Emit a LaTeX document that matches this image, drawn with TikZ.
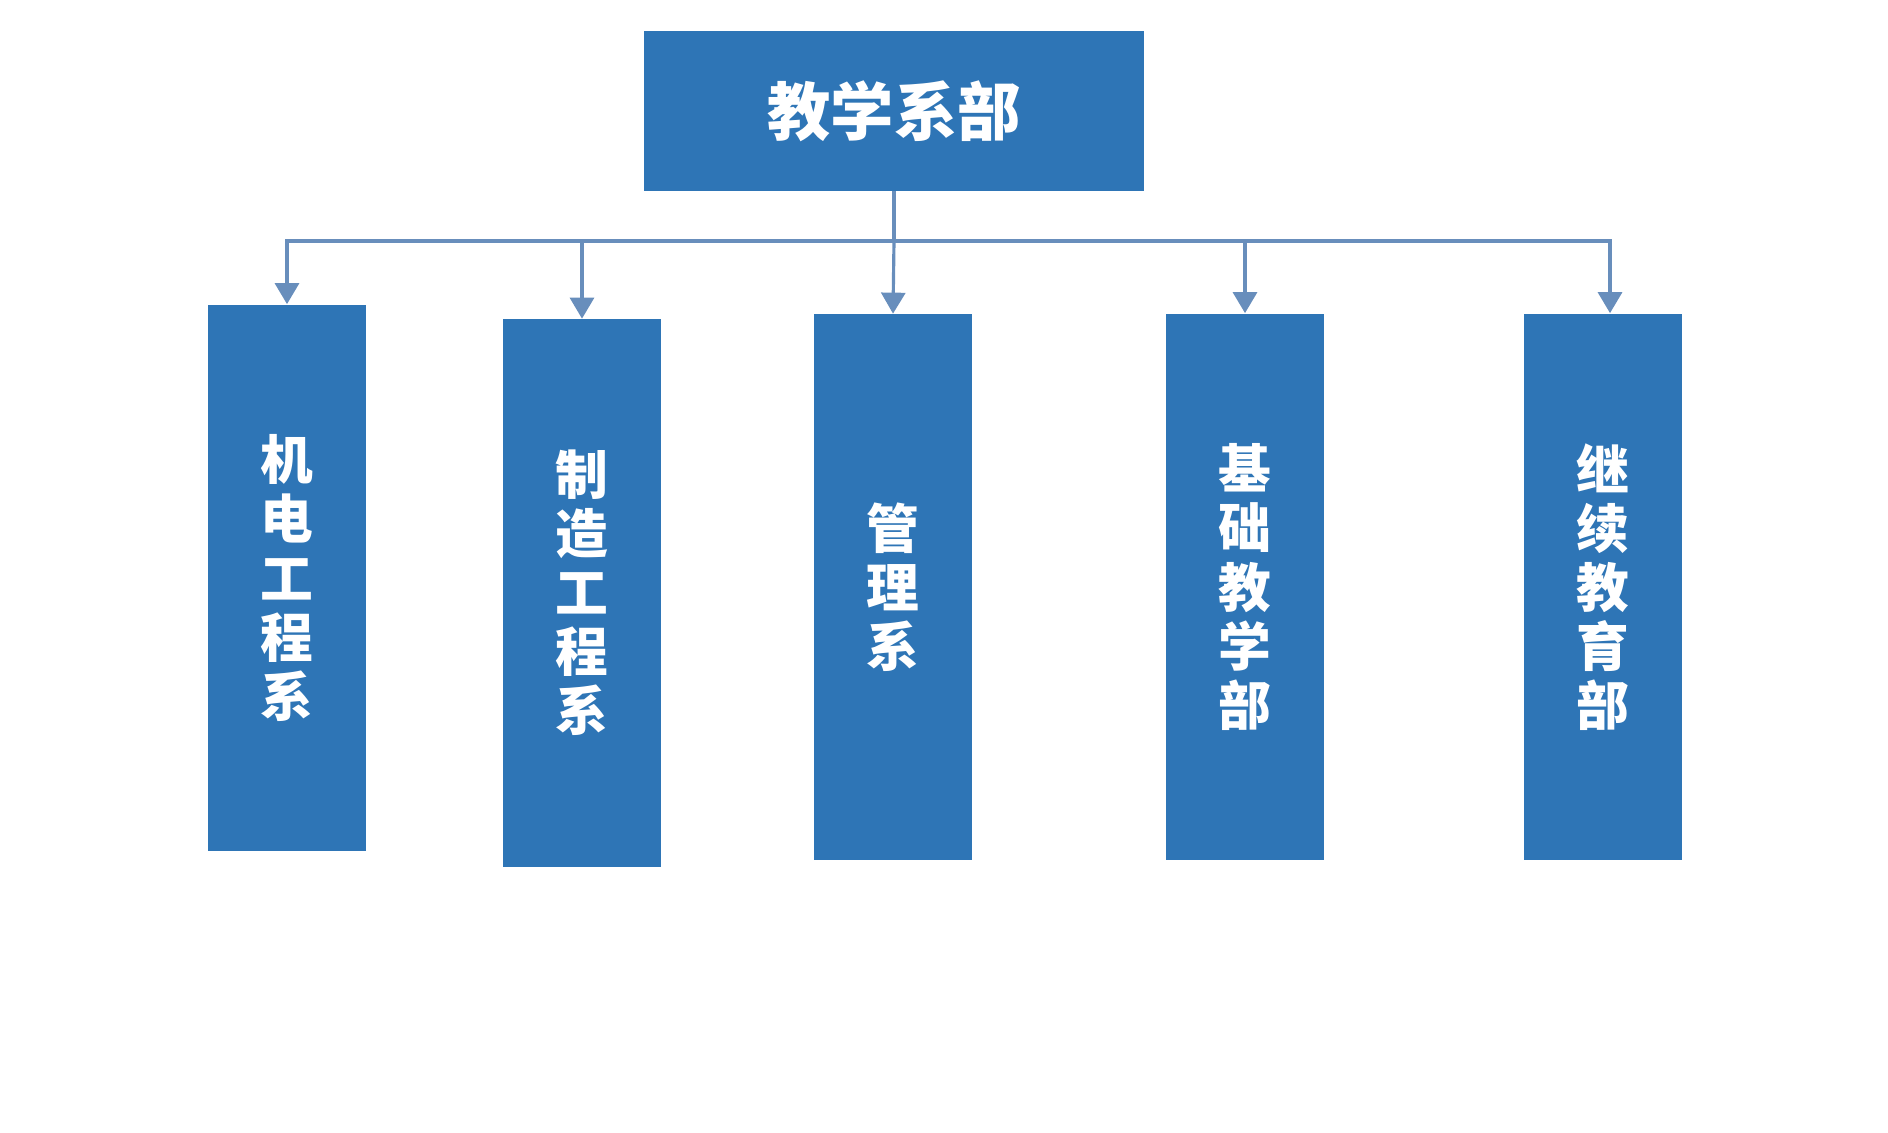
\documentclass[tikz,border=0pt]{standalone}
\usepackage{fontspec}
\newfontfamily\cjk{Noto Sans CJK SC}
\usetikzlibrary{arrows.meta}
\definecolor{boxblue}{RGB}{46,117,182}
\definecolor{lineblue}{RGB}{104,142,188}
\tikzset{
  deptbox/.style={fill=boxblue, text=white, inner sep=0pt, minimum width=1.58cm,
    align=center, font=\cjk\bfseries\fontsize{15}{16.8}\selectfont},
  headbox/.style={fill=boxblue, text=white, inner sep=0pt, minimum width=5cm,
    minimum height=1.59cm, font=\cjk\bfseries\fontsize{18}{20}\selectfont},
  link/.style={draw=lineblue, line width=0.9pt}
}
\begin{document}
\begin{tikzpicture}[x=0.01cm,y=-0.01cm,>={Triangle[width=0.24cm,length=0.21cm]}]
            \useasboundingbox (0,0) rectangle (1888,1132);
            \node [headbox] (top) at (894,111) {教学系部};
            \node [deptbox, minimum height=5.46cm] (d1) at (287,578) {机\\电\\工\\程\\系};
            \node [deptbox, minimum height=5.47cm] (d2) at (582,593) {制\\造\\工\\程\\系};
            \node [deptbox, minimum height=5.45cm] (d3) at (893,587) {管\\理\\系};
            \node [deptbox, minimum height=5.46cm] (d4) at (1245,587) {基\\础\\教\\学\\部};
            \node [deptbox, minimum height=5.46cm] (d5) at (1603,587) {继\\续\\教\\育\\部};
            \coordinate (bus) at (894,241);
            \draw [link] (top.south) -- (bus);
            \draw [link,->] (bus) -| (d1.north);
            \draw [link,->] (bus) -| (d2.north);
            \draw [link,->] (bus) -- (d3.north);
            \draw [link,->] (bus) -| (d4.north);
            \draw [link,->] (bus) -| ([xshift=0.07cm]d5.north);
        \end{tikzpicture}
\end{document}
